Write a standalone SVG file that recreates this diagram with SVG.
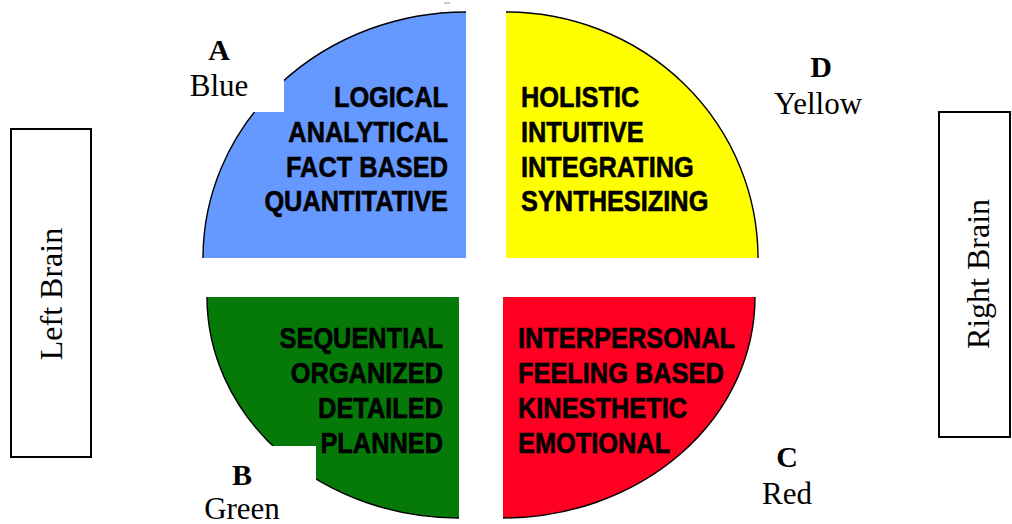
<svg xmlns="http://www.w3.org/2000/svg" width="1012" height="524" viewBox="0 0 1012 524">
  <style>
    .arc { fill: none; stroke: #000; stroke-width: 1.4; }
    .word { font-family: "Liberation Sans", Arial, sans-serif; font-weight: bold; font-size: 29.5px; fill: #000; stroke: #000; stroke-width: 0.6; }
    .end { text-anchor: end; }
    .letter { font-family: "Liberation Serif", "Times New Roman", serif; font-weight: bold; font-size: 30px; text-anchor: middle; fill: #000; }
    .colour { font-family: "Liberation Serif", "Times New Roman", serif; font-size: 31px; text-anchor: middle; fill: #000; }
    .side { font-family: "Liberation Serif", "Times New Roman", serif; font-size: 32px; text-anchor: middle; fill: #000; }
    .box { fill: #fff; stroke: #000; stroke-width: 2; }
  </style>

  <rect width="1012" height="524" fill="#fff"/>
  <line x1="444" y1="3" x2="450" y2="3" stroke="#999" stroke-width="1"/>

  <!-- Quadrant A: blue, upper left -->
  <g id="quadrant-a">
    <path d="M466,258 L203,258 A263,246 0 0 1 466,12 Z" fill="#6699FF"/>
    <path class="arc" d="M203,258 A263,246 0 0 1 466,12"/>
    <rect x="180" y="28" width="104" height="84" fill="#fff"/>
    <text class="word end" transform="translate(448 107) scale(0.86 1)">LOGICAL</text>
    <text class="word end" transform="translate(448 142) scale(0.86 1)">ANALYTICAL</text>
    <text class="word end" transform="translate(448 176.5) scale(0.86 1)">FACT BASED</text>
    <text class="word end" transform="translate(448 211) scale(0.86 1)">QUANTITATIVE</text>
    <text class="letter" x="219" y="60">A</text>
    <text class="colour" x="219" y="96">Blue</text>
  </g>

  <!-- Quadrant D: yellow, upper right -->
  <g id="quadrant-d">
    <path d="M506,258 L506,12 A252,246 0 0 1 758,258 Z" fill="#FFFF00"/>
    <path class="arc" d="M506,12 A252,246 0 0 1 758,258"/>
    <text class="word" transform="translate(521 107) scale(0.86 1)">HOLISTIC</text>
    <text class="word" transform="translate(521 142) scale(0.86 1)">INTUITIVE</text>
    <text class="word" transform="translate(521 176.5) scale(0.86 1)">INTEGRATING</text>
    <text class="word" transform="translate(521 211) scale(0.86 1)">SYNTHESIZING</text>
    <text class="letter" x="821" y="77">D</text>
    <text class="colour" x="818" y="114">Yellow</text>
  </g>

  <!-- Quadrant B: green, lower left -->
  <g id="quadrant-b">
    <path d="M459,297 L459,518 A252,221 0 0 1 207,297 Z" fill="#067A08"/>
    <path class="arc" d="M459,518 A252,221 0 0 1 207,297"/>
    <rect x="200" y="446" width="116" height="78" fill="#fff"/>
    <text class="word end" transform="translate(443 348) scale(0.86 1)">SEQUENTIAL</text>
    <text class="word end" transform="translate(443 383) scale(0.86 1)">ORGANIZED</text>
    <text class="word end" transform="translate(443 418) scale(0.86 1)">DETAILED</text>
    <text class="word end" transform="translate(443 452.5) scale(0.86 1)">PLANNED</text>
    <text class="letter" x="242" y="485">B</text>
    <text class="colour" x="242" y="519">Green</text>
  </g>

  <!-- Quadrant C: red, lower right -->
  <g id="quadrant-c">
    <path d="M503,297 L755,297 A252,221 0 0 1 503,518 Z" fill="#FF0022"/>
    <path class="arc" d="M755,297 A252,221 0 0 1 503,518"/>
    <text class="word" transform="translate(518 348) scale(0.86 1)">INTERPERSONAL</text>
    <text class="word" transform="translate(518 383) scale(0.86 1)">FEELING BASED</text>
    <text class="word" transform="translate(518 418) scale(0.86 1)">KINESTHETIC</text>
    <text class="word" transform="translate(518 452.5) scale(0.86 1)">EMOTIONAL</text>
    <text class="letter" x="787" y="467">C</text>
    <text class="colour" x="787" y="504">Red</text>
  </g>

  <!-- Hemisphere boxes -->
  <g id="left-brain">
    <rect class="box" x="11" y="129" width="80" height="328"/>
    <text class="side" transform="translate(62 294) rotate(-90)">Left Brain</text>
  </g>
  <g id="right-brain">
    <rect class="box" x="939" y="112" width="71" height="325"/>
    <text class="side" transform="translate(989 274) rotate(-90)">Right Brain</text>
  </g>

  <g id="connectors"/>
</svg>
